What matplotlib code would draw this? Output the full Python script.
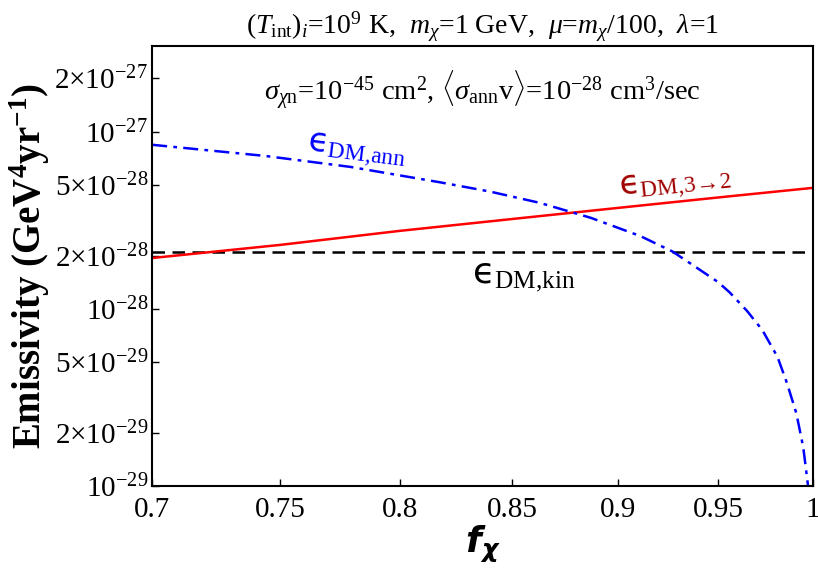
import numpy as np
import matplotlib
matplotlib.use("Agg")
import matplotlib.pyplot as plt
from matplotlib.ticker import FixedLocator, FixedFormatter, NullLocator

plt.rcParams['font.family'] = ['Liberation Serif', 'DejaVu Serif']
plt.rcParams['mathtext.fontset'] = 'custom'
plt.rcParams['mathtext.rm'] = 'Liberation Serif'
plt.rcParams['mathtext.it'] = 'Liberation Serif:italic'
plt.rcParams['mathtext.bf'] = 'Liberation Serif:bold'
plt.rcParams['mathtext.sf'] = 'DejaVu Sans'
plt.rcParams['mathtext.bfit'] = 'DejaVu Sans:italic:bold'

# valeurs
f_kin = [0.7, 1.0]
eps_kin = [2.1e-28, 2.1e-28]

f_32 = [0.70, 0.75, 0.80, 0.85, 0.90, 0.95, 1.00]
eps_32 = [1.94e-28, 2.30e-28, 2.76e-28, 3.22e-28, 3.72e-28, 4.26e-28, 4.83e-28]

f_ann = [0.700, 0.744, 0.779, 0.818, 0.840, 0.863, 0.875, 0.887, 0.911,
         0.927, 0.950, 0.956, 0.965, 0.973, 0.981, 0.986, 0.991, 0.9947, 0.9973]
eps_ann = [8.45e-28, 7.31e-28, 6.34e-28, 5.18e-28, 4.60e-28, 3.97e-28, 3.60e-28,
           3.27e-28, 2.58e-28, 2.11e-28, 1.42e-28, 1.24e-28, 9.75e-29, 7.6e-29,
           5.36e-29, 3.82e-29, 2.58e-29, 1.66e-29, 1.0e-29]

yticks = [1e-29, 2e-29, 5e-29, 1e-28, 2e-28, 5e-28, 1e-27, 2e-27]
ytick_labels = [r'$10^{-29}$', r'$2{\times}10^{-29}$', r'$5{\times}10^{-29}$',
                r'$10^{-28}$', r'$2{\times}10^{-28}$', r'$5{\times}10^{-28}$',
                r'$10^{-27}$', r'$2{\times}10^{-27}$']
xticks = [0.7, 0.75, 0.8, 0.85, 0.9, 0.95, 1.0]
xtick_labels = ['0.7', '0.75', '0.8', '0.85', '0.9', '0.95', '1']

fig = plt.figure(figsize=(8.18, 5.68), dpi=100)
ax = fig.add_axes([0.186, 0.144, 0.808, 0.775])

ax.plot(f_kin, eps_kin, color='black', ls=(0, (5, 3)), lw=1.8)
ax.plot(f_32, eps_32, color='#ff0000', lw=1.8)
ax.plot(f_ann, eps_ann, color='#0000ff', ls=(0, (6, 2.5, 1.5, 2.5)), lw=1.8)

ax.set_xscale('log')
ax.set_yscale('log')
ax.set_xlim(0.7, 1.0)
ax.set_ylim(1e-29, 3.05e-27)

ax.yaxis.set_major_locator(FixedLocator(yticks))
ax.yaxis.set_major_formatter(FixedFormatter(ytick_labels))
ax.yaxis.set_minor_locator(NullLocator())
ax.xaxis.set_major_locator(FixedLocator(xticks))
ax.xaxis.set_major_formatter(FixedFormatter(xtick_labels))
ax.xaxis.set_minor_locator(NullLocator())
ax.tick_params(direction='in', length=5, width=1, labelsize=21, top=False, right=False)
ax.tick_params(axis='x', pad=8)
ax.tick_params(axis='y', pad=3)
for s in ax.spines.values():
    s.set_linewidth(1.5)

ax.set_xlabel(r'$\mathbfit{f}_{\mathbfit{\chi}}$', fontsize=26, labelpad=0)
ax.set_ylabel(r'Emissivity (GeV$^{\mathbf{4}}$yr$^{\mathbf{-1}}$)', fontsize=28,
              fontweight='bold', labelpad=2)

fig.text(0.59, 0.952, r'$(T_{\rm int})_i$=10$^9$ K,  $m_\chi$=1 GeV,  $\mu$=$m_\chi$/100,  $\lambda$=1',
         ha='center', va='center', fontsize=20)
ax.text(0.5, 0.9, r'$\sigma_{\chi{\rm n}}$=10$^{-45}$ cm$^2$, $\langle\sigma_{\rm ann}$v$\rangle$=10$^{-28}$ cm$^3$/sec',
        transform=ax.transAxes, ha='center', va='center', fontsize=20.5)

ax.text(0.760, 7.7e-28, r'$\mathsf{ϵ}_{\rm DM{,}ann}$', color='#0000ff', fontsize=24,
        rotation=-7, ha='left', va='center')
ax.text(0.900, 5.0e-28, r'$\mathsf{ϵ}_{\rm DM{,}3\!\rightarrow\!2}$', color='#a00000', fontsize=24,
        rotation=6, ha='left', va='center')
ax.text(0.832, 1.52e-28, r'$\mathsf{ϵ}_{\rm DM{,}kin}$', color='black', fontsize=26,
        ha='left', va='center')

fig.savefig('out.png', dpi=100)
